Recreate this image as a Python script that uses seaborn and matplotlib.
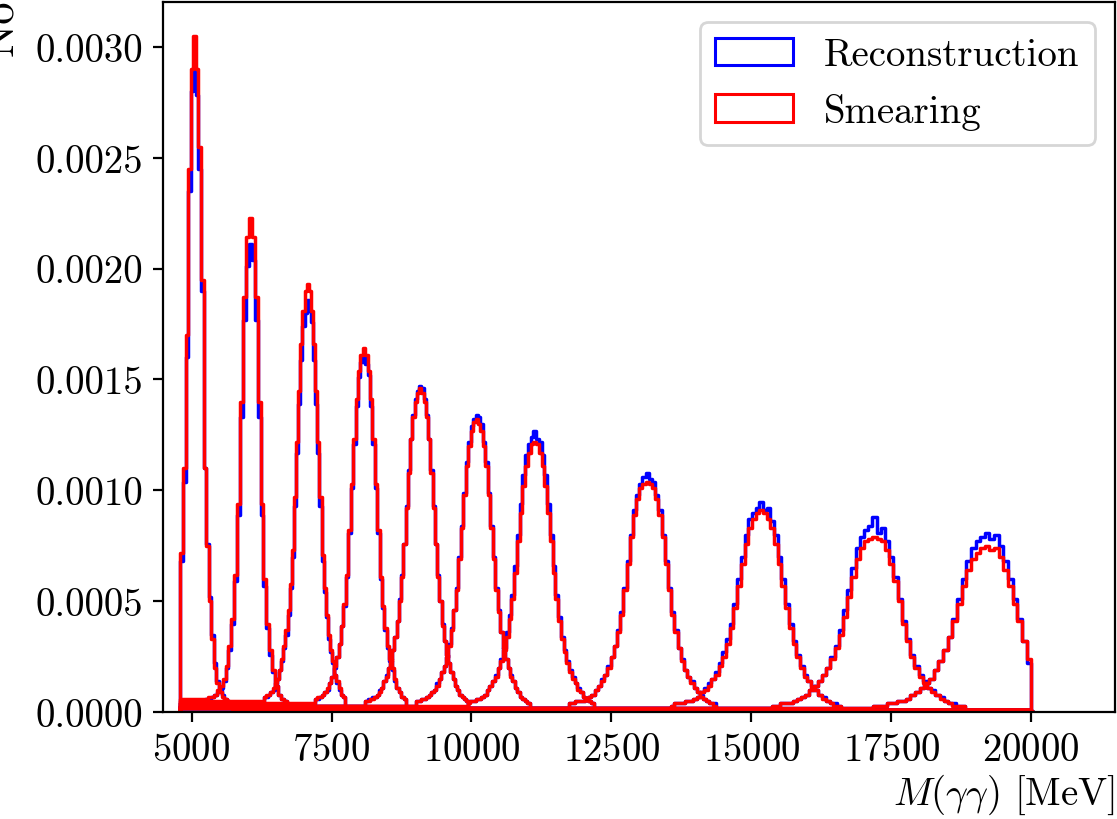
import numpy as np
import pandas as pd
import matplotlib.pyplot as plt
import matplotlib.patches as mpatches
import seaborn as sns

plt.rcParams['font.family'] = 'serif'
plt.rcParams['font.serif'] = ['cmr10']
plt.rcParams['mathtext.fontset'] = 'cm'
plt.rcParams['axes.formatter.use_mathtext'] = True
plt.rcParams['font.size'] = 14

# histogram range (MeV)
x_min, x_max = 4800, 20000

# fine-binned core of each mass point: first edge and bin width (MeV)
peak_lo = [4800, 5244, 6296, 7198, 8105, 9017, 9930, 11744, 13558, 15362.5, 17178]
bin_w = [46, 52, 38, 43, 40, 44, 49, 57, 66, 75, 83]

# bin heights in units of 1e-5 / MeV
reco_vals = [
    [68, 104, 160, 235, 280, 290, 278, 245, 190, 110, 76, 52, 35, 22, 14, 10, 8, 6, 5, 4],
    [6, 6, 7, 8, 9, 11, 14, 20, 28, 40, 59, 89, 133, 177, 201, 211, 204, 177, 133, 89,
     57, 38, 26, 18, 12, 8, 6, 5],
    [7, 7, 8, 9, 10, 12, 15, 19, 23, 29, 35, 44, 56, 70, 93, 117, 139, 159, 174, 180,
     186, 181, 176, 159, 139, 117, 93, 68, 54, 43, 33, 27, 22, 17, 13, 10, 8, 7],
    [6, 6, 7, 8, 9, 10, 13, 16, 20, 25, 31, 39, 48, 61, 81, 101, 121, 138, 151, 158,
     161, 157, 152, 138, 121, 101, 81, 60, 47, 37, 29, 23, 19, 14, 11, 9, 7, 6],
    [5, 6, 6, 7, 7, 8, 10, 11, 14, 17, 20, 24, 28, 34, 41, 51, 62, 76, 93, 109,
     123, 134, 141, 145, 147, 146, 141, 134, 123, 109, 93, 76, 62, 50, 40, 32, 26, 22, 18, 15,
     12, 10, 8, 7, 6, 5],
    [5, 5, 6, 6, 7, 8, 9, 10, 13, 15, 18, 21, 25, 31, 38, 46, 56, 70, 84, 99,
     113, 122, 129, 132, 134, 133, 130, 122, 113, 99, 84, 70, 56, 46, 36, 29, 24, 20, 17, 14,
     11, 9, 7, 6, 5, 4],
    [5, 5, 5, 6, 6, 7, 8, 10, 12, 14, 17, 20, 24, 29, 36, 44, 53, 66, 80, 94,
     107, 116, 121, 124, 127, 123, 122, 116, 107, 94, 80, 66, 53, 43, 34, 28, 23, 19, 16, 13,
     11, 9, 7, 6, 5, 4],
    [4, 4, 5, 5, 5, 6, 7, 8, 10, 12, 15, 17, 21, 25, 30, 37, 45, 56, 68, 80,
     91, 98, 103, 106, 108, 105, 104, 98, 91, 80, 68, 56, 45, 37, 29, 24, 19, 16, 14, 11,
     9, 8, 6, 5, 4, 4],
    [3, 4, 4, 4, 5, 5, 6, 7, 9, 11, 13, 15, 18, 22, 27, 33, 40, 49, 60, 70,
     80, 87, 90, 92, 95, 91, 92, 86, 80, 70, 60, 49, 40, 32, 26, 21, 17, 14, 12, 10,
     8, 7, 5, 4, 4, 3],
    [3, 3, 4, 4, 4, 5, 6, 7, 8, 10, 12, 14, 17, 20, 25, 30, 37, 46, 55, 65,
     74, 79, 82, 84, 88, 81, 83, 77, 70, 61, 51, 41, 33, 26, 21, 17, 14, 11, 10, 8,
     7, 5, 4, 4, 3, 3],
    [3, 3, 3, 4, 4, 5, 5, 6, 8, 9, 11, 13, 15, 19, 23, 28, 34, 42, 51, 60,
     68, 74, 77, 79, 81, 78, 80, 75, 68, 60, 51, 42, 32, 22],
]
smear_vals = [
    [72, 110, 170, 245, 290, 305, 290, 255, 195, 110, 75, 50, 33, 20, 13, 9, 7, 6, 5, 4],
    [6, 7, 7, 8, 10, 12, 15, 21, 30, 42, 62, 94, 140, 187, 214, 223, 214, 187, 140, 94,
     60, 40, 28, 19, 12, 8, 6, 5],
    [7, 8, 8, 9, 11, 13, 15, 19, 24, 30, 37, 46, 58, 73, 97, 122, 145, 166, 181, 190,
     193, 190, 181, 166, 145, 122, 97, 71, 56, 44, 35, 28, 23, 17, 14, 11, 8, 7],
    [6, 7, 7, 8, 9, 11, 13, 16, 21, 25, 31, 39, 49, 62, 82, 103, 123, 141, 154, 161,
     164, 161, 154, 141, 123, 103, 82, 61, 48, 38, 30, 24, 20, 15, 11, 9, 7, 6],
    [5, 5, 6, 6, 7, 8, 9, 11, 14, 16, 20, 23, 28, 34, 41, 50, 61, 76, 92, 108,
     123, 133, 140, 144, 146, 144, 140, 133, 123, 108, 92, 76, 61, 50, 39, 32, 26, 22, 18, 15,
     12, 10, 8, 7, 6, 5],
    [5, 5, 6, 6, 7, 8, 9, 10, 12, 15, 18, 21, 25, 30, 37, 46, 55, 69, 83, 98,
     111, 120, 127, 131, 132, 130, 127, 120, 111, 98, 83, 69, 55, 45, 36, 29, 24, 20, 16, 14,
     11, 9, 7, 6, 5, 4],
    [4, 5, 5, 6, 6, 7, 8, 10, 12, 14, 16, 20, 23, 28, 34, 42, 51, 63, 77, 90,
     102, 111, 117, 121, 122, 121, 117, 111, 102, 90, 77, 63, 51, 41, 33, 27, 22, 18, 15, 13,
     10, 9, 7, 6, 5, 4],
    [4, 4, 5, 5, 5, 6, 7, 8, 10, 12, 14, 17, 20, 25, 30, 36, 44, 55, 67, 79,
     89, 96, 101, 103, 104, 103, 101, 96, 89, 79, 67, 55, 44, 36, 29, 23, 19, 16, 13, 11,
     9, 7, 6, 5, 4, 3],
    [3, 4, 4, 4, 5, 5, 6, 7, 9, 10, 12, 15, 17, 21, 25, 31, 38, 47, 57, 67,
     76, 83, 87, 90, 91, 90, 87, 83, 76, 67, 57, 47, 38, 31, 25, 20, 16, 14, 11, 10,
     8, 6, 5, 4, 3, 3],
    [3, 3, 4, 4, 4, 5, 6, 7, 8, 10, 12, 14, 17, 20, 24, 29, 35, 43, 52, 61,
     69, 74, 77, 78, 79, 78, 77, 73, 67, 59, 50, 40, 32, 25, 20, 16, 13, 11, 9, 8,
     6, 5, 4, 3, 3, 3],
    [3, 3, 3, 4, 4, 5, 5, 6, 8, 9, 11, 13, 15, 19, 23, 28, 34, 41, 49, 57,
     64, 69, 72, 74, 75, 73, 74, 70, 64, 57, 49, 41, 32, 24],
]

# flat low-level tails outside the core (same units)
reco_left = [0, 4, 4, 3, 3, 3, 2, 2, 2, 2, 2]
smear_left = [0, 6, 5, 4, 3, 3, 3, 2, 2, 2, 2]
reco_right = [1, 1, 1, 1, 1, 1, 1, 1, 1, 1, 0]
smear_right = [1, 1, 1, 1, 1, 1, 1, 1, 1, 1, 0]


def build_hist(lo, w, vals, left, right):
    core = lo + w * np.arange(len(vals) + 1)
    edges = [x_min - 10, x_min]
    heights = [0.0]
    if core[0] > x_min:
        edges.append(core[0])
        heights.append(left)
    edges.extend(core[1:])
    heights.extend(vals)
    if core[-1] < x_max - 1:
        edges.append(x_max)
        heights.append(right)
    edges.append(x_max + 10)
    heights.append(0.0)
    edges = np.array(edges, dtype=float)
    df = pd.DataFrame({
        'mass': 0.5 * (edges[:-1] + edges[1:]),
        'density': np.array(heights, dtype=float) * 1e-5,
    })
    return edges.tolist(), df


fig = plt.figure(figsize=(1117 / 200, 820 / 200), dpi=200)
ax = fig.add_axes([163 / 1117, 1 - 713.3 / 820, (1115 - 163.3) / 1117, 710 / 820])

for vals_list, lefts, rights, color in [
    (reco_vals, reco_left, reco_right, 'blue'),
    (smear_vals, smear_left, smear_right, 'red'),
]:
    for i in range(len(peak_lo)):
        edges, df = build_hist(peak_lo[i], bin_w[i], vals_list[i], lefts[i], rights[i])
        sns.histplot(data=df, x='mass', weights='density', bins=edges, element='step',
                     fill=False, color=color, linewidth=1.25, ax=ax)

ax.set_xlim(4490, 21490)
ax.set_ylim(0, 0.0032)
ax.set_xticks([5000, 7500, 10000, 12500, 15000, 17500, 20000])
ax.set_yticks([0, 0.0005, 0.001, 0.0015, 0.002, 0.0025, 0.003])
ax.yaxis.set_major_formatter(plt.FormatStrFormatter('%.4f'))

ax.set_xlabel(r'$M(\gamma\gamma)$ [MeV]', loc='right', labelpad=1.5)
ax.set_ylabel('No. of events', loc='bottom', fontsize=16)
ax.yaxis.set_label_coords(-0.148, 0.924)

handles = [
    mpatches.Patch(facecolor='none', edgecolor='blue', linewidth=1.1, label='Reconstruction'),
    mpatches.Patch(facecolor='none', edgecolor='red', linewidth=1.1, label='Smearing'),
]
ax.legend(handles=handles, loc='upper right')

fig.savefig('out.png', dpi=200)
